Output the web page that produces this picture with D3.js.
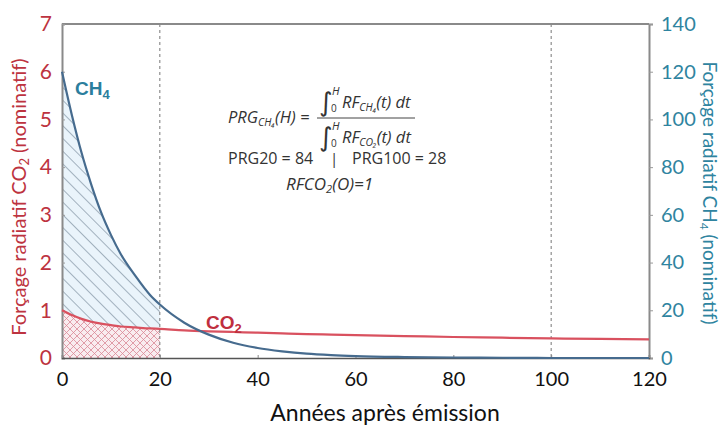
<!DOCTYPE html>
<html>
<head>
<meta charset="utf-8">
<script src="https://cdn.jsdelivr.net/npm/d3@7"></script>
<style>
  body { margin: 0; background: #fff; }
  svg { display: block; font-family: "Lato", "DejaVu Sans", sans-serif; }
  .formula { font-family: "Open Sans", "Liberation Sans", sans-serif; fill: #333; }
</style>
</head>
<body>
<svg id="chart" width="725" height="426"></svg>
<script>
// values
let years = [0, 2, 4, 6, 8, 10, 12, 15, 18, 20, 25, 30, 35, 40, 45, 50, 55, 60, 70, 80, 90, 100, 110, 120]
let ch4_values = [6.0, 5.1, 4.3, 3.63, 3.05, 2.58, 2.18, 1.72, 1.32, 1.12, 0.74, 0.49, 0.32, 0.21, 0.14, 0.09, 0.06, 0.04, 0.02, 0.01, 0.005, 0, 0, 0]
let co2_values = [1.0, 0.9, 0.82, 0.76, 0.72, 0.69, 0.66, 0.64, 0.62, 0.61, 0.58, 0.56, 0.545, 0.53, 0.515, 0.5, 0.49, 0.48, 0.46, 0.44, 0.425, 0.41, 0.4, 0.39]
let x_ticks = [0, 20, 40, 60, 80, 100, 120]
let left_ticks = [0, 1, 2, 3, 4, 5, 6, 7]
let right_ticks = [0, 20, 40, 60, 80, 100, 120, 140]
let horizons = [20, 100]
let shaded_until = 20

let red = "#bd3340"
let teal = "#2f84a0"

let svg = d3.select("#chart")
let plot_left = 62, plot_right = 649, plot_top = 24, plot_bottom = 358

let x = d3.scaleLinear().domain([0, 120]).range([plot_left, plot_right])
let yL = d3.scaleLinear().domain([0, 7]).range([plot_bottom, plot_top])
let yR = d3.scaleLinear().domain([0, 140]).range([plot_bottom, plot_top])

let data = years.map((t, i) => ({ t: t, ch4: ch4_values[i], co2: co2_values[i] }))
let shaded = data.filter((d) => d.t <= shaded_until)

// hatch patterns
let defs = svg.append("defs")
let p1 = defs.append("pattern").attr("id", "hatchCH4").attr("patternUnits", "userSpaceOnUse")
    .attr("width", 9).attr("height", 9).attr("patternTransform", "rotate(-45)")
p1.append("rect").attr("width", 9).attr("height", 9).attr("fill", "#eaf4fb")
p1.append("line").attr("x1", 0).attr("y1", 0).attr("x2", 0).attr("y2", 9)
    .attr("stroke", "#5b6f82").attr("stroke-width", 1)

let p2 = defs.append("pattern").attr("id", "hatchCO2").attr("patternUnits", "userSpaceOnUse")
    .attr("width", 7).attr("height", 7)
p2.append("rect").attr("width", 7).attr("height", 7).attr("fill", "#f9ecef")
p2.append("path").attr("d", "M0,0L7,7M-1,6L1,8M6,-1L8,1M7,0L0,7M-1,1L1,-1M6,8L8,6")
    .attr("stroke", "#d98896").attr("stroke-width", 0.8)

// shaded areas
svg.append("path").datum(shaded)
    .attr("fill", "url(#hatchCH4)")
    .attr("d", d3.area().x((d) => x(d.t)).y0(plot_bottom).y1((d) => yL(d.ch4)).curve(d3.curveMonotoneX))
svg.append("path").datum(shaded)
    .attr("fill", "url(#hatchCO2)")
    .attr("d", d3.area().x((d) => x(d.t)).y0(plot_bottom).y1((d) => yL(d.co2)).curve(d3.curveMonotoneX))

// horizon dashed lines
svg.selectAll(".horizon").data(horizons).join("line")
    .attr("class", "horizon")
    .attr("x1", (d) => x(d)).attr("x2", (d) => x(d))
    .attr("y1", plot_top).attr("y2", plot_bottom)
    .attr("stroke", "#777").attr("stroke-width", 1).attr("stroke-dasharray", "3,3")

// frame
svg.append("line").attr("x1", plot_left).attr("x2", plot_right).attr("y1", plot_top).attr("y2", plot_top)
    .attr("stroke", "#8a8a8a").attr("stroke-width", 2)

// axes
let axL = svg.append("g").attr("transform", `translate(${plot_left},0)`)
    .call(d3.axisLeft(yL).tickValues(left_ticks).tickSize(-3).tickPadding(10).tickFormat(d3.format("d")))
axL.select(".domain").attr("stroke", "#8a8a8a").attr("stroke-width", 2)
axL.selectAll(".tick line").attr("stroke", "#999")
axL.selectAll("text").attr("fill", red).attr("font-size", 21).attr("font-family", "Lato, sans-serif")

let axR = svg.append("g").attr("transform", `translate(${plot_right},0)`)
    .call(d3.axisRight(yR).tickValues(right_ticks).tickSize(4).tickPadding(8))
axR.select(".domain").attr("stroke", "#8a8a8a").attr("stroke-width", 2)
axR.selectAll(".tick line").attr("stroke", "#999")
axR.selectAll("text").attr("fill", teal).attr("font-size", 20).attr("font-family", "Lato, sans-serif")

let axB = svg.append("g").attr("transform", `translate(0,${plot_bottom})`)
    .call(d3.axisBottom(x).tickValues(x_ticks).tickSize(-3).tickPadding(14))
axB.select(".domain").attr("stroke", "#555").attr("stroke-width", 1.5)
axB.selectAll(".tick line").attr("stroke", "#888")
axB.selectAll("text").attr("fill", "#111").attr("font-size", 20).attr("font-family", "Lato, sans-serif")

// curves
svg.append("path").datum(data)
    .attr("fill", "none").attr("stroke", "#d9515f").attr("stroke-width", 2.2)
    .attr("d", d3.line().x((d) => x(d.t)).y((d) => yL(d.co2)).curve(d3.curveMonotoneX))
svg.append("path").datum(data)
    .attr("fill", "none").attr("stroke", "#466b8e").attr("stroke-width", 2.2)
    .attr("d", d3.line().x((d) => x(d.t)).y((d) => yL(d.ch4)).curve(d3.curveMonotoneX))

// series labels
let ch4Label = svg.append("text").attr("x", 75).attr("y", 95)
    .attr("fill", "#2b7e9d").attr("font-size", 19).attr("font-weight", "bold").attr("font-family", "Liberation Sans, Arial, sans-serif")
ch4Label.append("tspan").text("CH")
ch4Label.append("tspan").text("4").attr("font-size", 13).attr("dy", 4)

let co2Label = svg.append("text").attr("x", 206).attr("y", 329)
    .attr("fill", "#bf2f3e").attr("font-size", 19).attr("font-weight", "bold").attr("font-family", "Liberation Sans, Arial, sans-serif")
co2Label.append("tspan").text("CO")
co2Label.append("tspan").text("2").attr("font-size", 13).attr("dy", 4)

// axis titles
let lt = svg.append("text").attr("transform", "translate(26,197) rotate(-90)")
    .attr("text-anchor", "middle").attr("fill", red).attr("font-size", 20)
lt.append("tspan").text("Forçage radiatif CO")
lt.append("tspan").text("2").attr("font-size", 13).attr("dy", 3)
lt.append("tspan").text(" (nominatif)").attr("dy", -3)

let rt = svg.append("text").attr("transform", "translate(703,193) rotate(90)")
    .attr("text-anchor", "middle").attr("fill", teal).attr("font-size", 19)
rt.append("tspan").text("Forçage radiatif CH")
rt.append("tspan").text("4").attr("font-size", 12).attr("dy", 3)
rt.append("tspan").text(" (nominatif)").attr("dy", -3)

svg.append("text").attr("x", 385).attr("y", 421)
    .attr("text-anchor", "middle").attr("fill", "#111").attr("font-size", 23)
    .text("Années après émission")

// formula box
let f = svg.append("g").attr("class", "formula")
let lhs = f.append("text").attr("x", 228).attr("y", 123).attr("font-size", 16.5).attr("font-style", "italic")
lhs.append("tspan").text("PRG")
lhs.append("tspan").text("CH₄").attr("font-size", 10.5).attr("dy", 3)
lhs.append("tspan").text("(H) =").attr("dy", -3)

function integral(yBase, gas) {
    f.append("text").attr("x", 319).attr("y", yBase + 3).attr("font-size", 26)
        .attr("font-family", "DejaVu Sans, sans-serif").text("∫")
    f.append("text").attr("x", 332).attr("y", yBase - 13).attr("font-size", 11).attr("font-style", "italic").text("H")
    f.append("text").attr("x", 331).attr("y", yBase + 4).attr("font-size", 10).text("0")
    let t = f.append("text").attr("x", 342).attr("y", yBase).attr("font-size", 16.5).attr("font-style", "italic")
    t.append("tspan").text("RF")
    t.append("tspan").text(gas).attr("font-size", 10.5).attr("dy", 3)
    t.append("tspan").text("(t) dt").attr("dy", -3)
}
integral(108, "CH₄")
integral(143, "CO₂")
f.append("line").attr("x1", 317).attr("x2", 415).attr("y1", 118).attr("y2", 118)
    .attr("stroke", "#444").attr("stroke-width", 1)

f.append("text").attr("x", 228).attr("y", 164).attr("font-size", 16).text("PRG20 = 84")
f.append("text").attr("x", 334).attr("y", 164).attr("font-size", 15).attr("text-anchor", "middle").text("|")
f.append("text").attr("x", 352).attr("y", 164).attr("font-size", 16).text("PRG100 = 28")

let rf = f.append("text").attr("x", 286).attr("y", 190).attr("font-size", 17).attr("font-style", "italic")
rf.append("tspan").text("RFCO")
rf.append("tspan").text("2").attr("font-size", 11).attr("dy", 3)
rf.append("tspan").text("(O)=1").attr("dy", -3)
</script>
</body>
</html>
